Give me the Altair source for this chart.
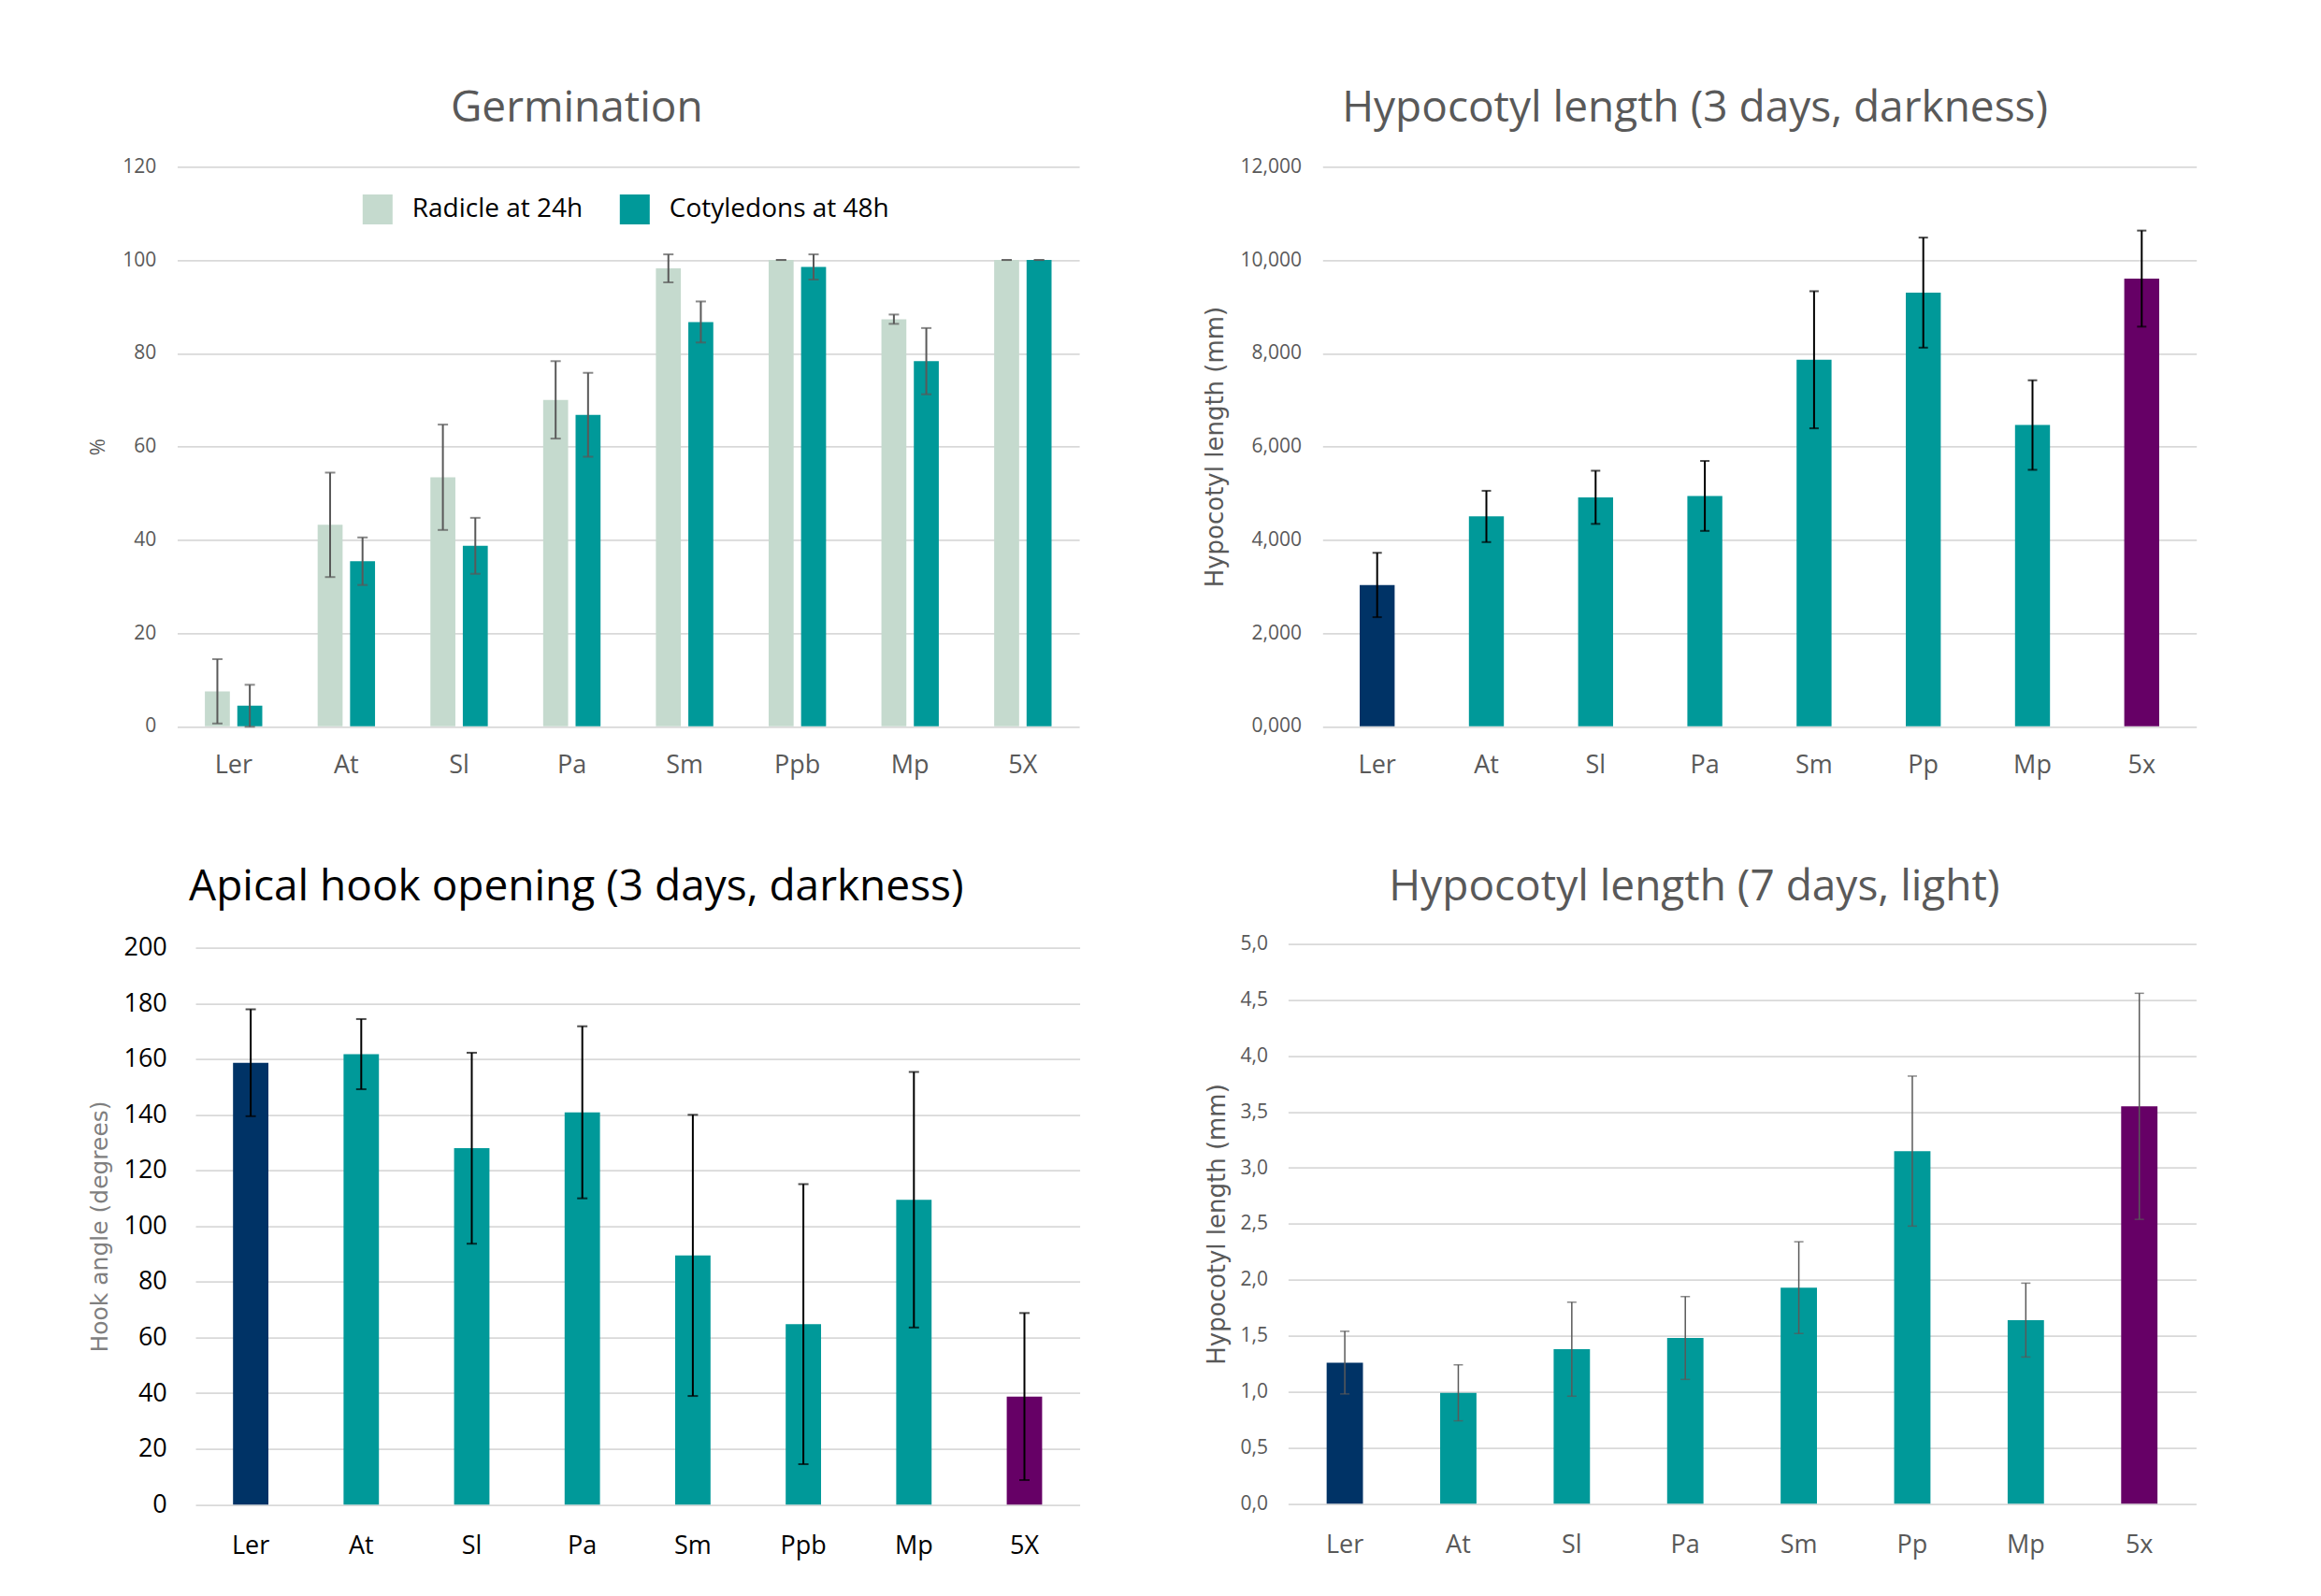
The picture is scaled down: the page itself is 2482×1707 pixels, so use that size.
import altair as alt
import pandas as pd

# ---------------- data ----------------
germ_cats = ["Ler", "At", "Sl", "Pa", "Sm", "Ppb", "Mp", "5X"]
series_names = ["Radicle at 24h", "Cotyledons at 48h"]
radicle_24h = [7.5, 43.2, 53.4, 70.0, 98.2, 100.0, 87.3, 100.0]
radicle_24h_err = [6.9, 11.2, 11.3, 8.3, 3.0, 0.0, 1.0, 0.0]
cotyledons_48h = [4.4, 35.4, 38.7, 66.8, 86.7, 98.5, 78.3, 100.0]
cotyledons_48h_err = [4.5, 5.1, 6.0, 9.0, 4.4, 2.7, 7.1, 0.0]

dark_cats = ["Ler", "At", "Sl", "Pa", "Sm", "Pp", "Mp", "5x"]
dark_len = [3.03, 4.50, 4.91, 4.94, 7.86, 9.30, 6.46, 9.60]
dark_err = [0.69, 0.55, 0.57, 0.75, 1.47, 1.18, 0.96, 1.03]

hook_cats = ["Ler", "At", "Sl", "Pa", "Sm", "Ppb", "Mp", "5X"]
hook_angle = [158.7, 161.8, 128.0, 140.9, 89.5, 64.8, 109.5, 38.8]
hook_err = [19.2, 12.6, 34.3, 30.9, 50.5, 50.3, 45.9, 30.0]

light_cats = ["Ler", "At", "Sl", "Pa", "Sm", "Pp", "Mp", "5x"]
light_len = [1.26, 0.99, 1.38, 1.48, 1.93, 3.15, 1.64, 3.55]
light_err = [0.28, 0.25, 0.42, 0.37, 0.41, 0.67, 0.33, 1.01]

germ_ticks = [0, 20, 40, 60, 80, 100, 120]
dark_ticks = [0, 2, 4, 6, 8, 10, 12]
hook_ticks = [0, 20, 40, 60, 80, 100, 120, 140, 160, 180, 200]
light_ticks = [0, 0.5, 1.0, 1.5, 2.0, 2.5, 3.0, 3.5, 4.0, 4.5, 5.0]

# ---------------- styles ----------------
LIGHT = "#C5DACE"
TEAL = "#009999"
NAVY = "#003366"
PURPLE = "#660066"
GRAY = "#595959"
GRID = "#D9D9D9"
FONT = "Open Sans"
TFONT = "DejaVu Sans"


def title(text, dx, color=GRAY, offset=-9.2):
    return alt.TitleParams(text=text, anchor="middle", frame="group", dx=dx,
                           offset=offset, fontSize=46, font=FONT, color=color,
                           fontWeight="normal", baseline="alphabetic")


def x_axis(color, pad, size=27):
    return alt.Axis(labelAngle=0, labelFont=FONT, labelFontSize=size,
                    labelColor=color, labelPadding=pad, ticks=False,
                    domain=False, grid=False, title=None)


def y_axis(values, ttl, tx, lab_size, lab_color, lab_pad, t_font, t_size,
           t_color, expr=None):
    kw = dict(values=values, labelFont=FONT, labelFontSize=lab_size,
              labelColor=lab_color, labelPadding=lab_pad, ticks=False,
              domain=False, grid=True, gridColor=GRID, gridWidth=1.75,
              title=ttl, titleFont=t_font, titleFontSize=t_size,
              titleColor=t_color, titleFontWeight="normal", titleX=tx,
              titleAngle=270, titleBaseline="middle", titleAlign="center")
    if expr:
        kw["labelExpr"] = expr
    return alt.Axis(**kw)


# ---------------- panel 1 : germination ----------------
rows = []
for i, c in enumerate(germ_cats):
    for s, v, e in ((series_names[0], radicle_24h[i], radicle_24h_err[i]),
                    (series_names[1], cotyledons_48h[i], cotyledons_48h_err[i])):
        rows.append({"cat": c, "series": s, "val": v, "lo": v - e, "hi": v + e})
germ_df = pd.DataFrame(rows)

# the plot area of this panel starts 19.5 px left of the panel origin
g_x = alt.X("cat:N", sort=germ_cats,
            scale=alt.Scale(paddingInner=0.491, paddingOuter=0.2455,
                            range=[-19.5, 945.1]),
            axis=x_axis(GRAY, 29))
g_xo = alt.XOffset("series:N", sort=series_names,
                   scale=alt.Scale(paddingInner=0.23, paddingOuter=0))
g_yax = y_axis(germ_ticks, "%", -104.2, 21, GRAY, 42.2, FONT, 22, GRAY)
g_scale = alt.Scale(domain=[0, 120], nice=False)

g_bars = alt.Chart(germ_df).mark_bar().encode(
    x=g_x, xOffset=g_xo,
    y=alt.Y("val:Q", scale=g_scale, axis=g_yax),
    color=alt.Color("series:N", sort=series_names,
                    scale=alt.Scale(domain=series_names, range=[LIGHT, TEAL]),
                    legend=alt.Legend(orient="none", legendX=178.8, legendY=29.7,
                                      direction="horizontal", title=None,
                                      symbolType="square", symbolSize=1024,
                                      symbolStrokeWidth=0, labelFont=FONT,
                                      labelFontSize=28, labelColor="black",
                                      labelOffset=21, columnPadding=39,
                                      padding=0, labelLimit=500)),
)
g_rule = alt.Chart(germ_df).mark_rule(color=GRAY, strokeWidth=2).encode(
    x=g_x, xOffset=g_xo, y=alt.Y("lo:Q", scale=g_scale, axis=g_yax), y2="hi:Q")
g_cap_lo = alt.Chart(germ_df).mark_tick(color=GRAY, thickness=2, size=11).encode(
    x=g_x, xOffset=g_xo, y=alt.Y("lo:Q", scale=g_scale, axis=g_yax))
g_cap_hi = alt.Chart(germ_df).mark_tick(color=GRAY, thickness=2, size=11).encode(
    x=g_x, xOffset=g_xo, y=alt.Y("hi:Q", scale=g_scale, axis=g_yax))

p1 = alt.layer(g_bars, g_rule, g_cap_lo, g_cap_hi).properties(
    width=945.1, height=598.5, title=title("Germination", -64.75))


# ---------------- single-series panels ----------------
def bar_panel(cats, vals, errs, w, h, ymax, ticks, yax, xax, err_color,
              err_width, cap, ttl, yrange=None):
    df = pd.DataFrame({"cat": cats, "val": vals,
                       "lo": [v - e for v, e in zip(vals, errs)],
                       "hi": [v + e for v, e in zip(vals, errs)]})
    x = alt.X("cat:N", sort=cats,
              scale=alt.Scale(paddingInner=0.68, paddingOuter=0.34), axis=xax)
    if yrange:
        sc = alt.Scale(domain=[0, ymax], nice=False, range=yrange)
    else:
        sc = alt.Scale(domain=[0, ymax], nice=False)
    bars = alt.Chart(df).mark_bar().encode(
        x=x, y=alt.Y("val:Q", scale=sc, axis=yax),
        color=alt.Color("cat:N", scale=alt.Scale(
            domain=cats, range=[NAVY] + [TEAL] * 6 + [PURPLE]), legend=None))
    rule = alt.Chart(df).mark_rule(color=err_color, strokeWidth=err_width).encode(
        x=x, y=alt.Y("lo:Q", scale=sc, axis=yax), y2="hi:Q")
    lo = alt.Chart(df).mark_tick(color=err_color, thickness=err_width, size=cap).encode(
        x=x, y=alt.Y("lo:Q", scale=sc, axis=yax))
    hi = alt.Chart(df).mark_tick(color=err_color, thickness=err_width, size=cap).encode(
        x=x, y=alt.Y("hi:Q", scale=sc, axis=yax))
    return alt.layer(bars, rule, lo, hi).properties(width=w, height=h, title=ttl)


p2 = bar_panel(
    dark_cats, dark_len, dark_err, 934.4, 598.5, 12, dark_ticks,
    y_axis(dark_ticks, "Hypocotyl length (mm)", -114.5, 21, GRAY, 22.8,
           TFONT, 26, GRAY,
           expr="replace(format(datum.value, '.3f'), '.', ',')"),
    x_axis(GRAY, 29), "black", 2, 10,
    title("Hypocotyl length (3 days, darkness)", -68.9))

p3 = bar_panel(
    hook_cats, hook_angle, hook_err, 945.6, 595.5, 200, hook_ticks,
    y_axis(hook_ticks, "Hook angle (degrees)", -102.7, 27, "black", 30.7,
           TFONT, 25, "#7F7F7F"),
    x_axis("black", 31), "black", 2, 11,
    title("Apical hook opening (3 days, darkness)", -65.5, color="black"))

# top gridline of this panel sits 4 px above the row's origin
p4 = bar_panel(
    light_cats, light_len, light_err, 971, 594.5, 5, light_ticks,
    y_axis(light_ticks, "Hypocotyl length (mm)", -76.3, 21, GRAY, 22,
           TFONT, 26, GRAY,
           expr="replace(format(datum.value, '.1f'), '.', ',')"),
    x_axis(GRAY, 31), GRAY, 1.5, 10,
    title("Hypocotyl length (7 days, light)", -51, offset=-10.7),
    yrange=[594.5, -4])

row1 = alt.hconcat(p1, p2, spacing=112.3).resolve_scale(
    x="independent", y="independent", color="independent", xOffset="independent")
row2 = alt.hconcat(p3, p4, spacing=132.4).resolve_scale(
    x="independent", y="independent", color="independent")

chart = alt.vconcat(row1, row2, spacing=93.4).resolve_scale(
    x="independent", y="independent", color="independent", xOffset="independent"
).properties(
    padding={"left": 85, "top": 85.3, "right": 20, "bottom": 20},
    background="white",
).configure_view(stroke=None)

chart.save("out.html", embed_options={"renderer": "svg", "actions": False})
